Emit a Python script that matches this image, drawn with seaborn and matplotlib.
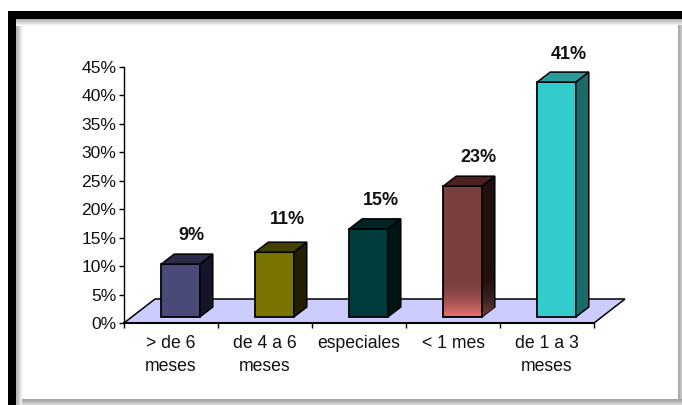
import numpy as np
import pandas as pd
import matplotlib
matplotlib.use('Agg')
import matplotlib.pyplot as plt
from matplotlib.patches import Polygon, Rectangle
from matplotlib.colors import LinearSegmentedColormap
import seaborn as sns

# values
categories = ['> de 6\nmeses', 'de 4 a 6\nmeses', 'especiales', '< 1 mes', 'de 1 a 3\nmeses']
values = [9.3, 11.4, 15.5, 23.0, 41.3]
value_labels = ['9%', '11%', '15%', '23%', '41%']
y_ticks = [0, 5, 10, 15, 20, 25, 30, 35, 40, 45]

front_colors = ['#4a4a78', '#7a7500', '#003c3c', '#7a4040', '#33cccc']
side_colors = ['#15152a', '#211f00', '#001414', '#1f0f0d', '#1a6a6a']
top_colors = ['#2b2b4a', '#444100', '#002424', '#4a2020', '#2a9a9a']

sns.set_style('white')
plt.rcParams['font.family'] = ['Liberation Sans', 'DejaVu Sans']

W, H = 682, 405
fig = plt.figure(figsize=(W / 100, H / 100), dpi=100, facecolor='white')


# rectangle on the figure, given in pixels from the top left
def frame_rect(x0, y0, x1, y1, color):
    fig.add_artist(Rectangle((x0 / W, 1 - y1 / H), (x1 - x0) / W, (y1 - y0) / H,
                             transform=fig.transFigure, color=color, lw=0))


# gray shadow of the frame, then the black border
shades = ['#b4b4b4', '#bcbcbc', '#c8c8c8', '#d4d4d4', '#e2e2e2', '#f0f0f0', '#f8f8f8']
for i, shade in enumerate(shades):
    frame_rect(16, 19 + i, 682, 20 + i, shade)
    frame_rect(16 + i, 19 + i, 17 + i, 405, shade)
right_shades = ['#a8a8a8', '#b0b0b0', '#bcbcbc', '#c8c8c8']
for i, shade in enumerate(right_shades):
    frame_rect(678 + i, 25, 679 + i, 405, shade)
bottom_shades = ['#a4a4a4', '#aaaaaa', '#b4b4b4', '#c0c0c0', '#cccccc', '#d8d8d8']
for i, shade in enumerate(bottom_shades):
    frame_rect(16 + 6, 399 + i, 682, 400 + i, shade)
frame_rect(8, 11, 682, 19, 'black')
frame_rect(8, 11, 16, 405, 'black')

ax = fig.add_axes([124 / W, 1 - 323 / H, 470 / W, 256 / H], facecolor='none')

df = pd.DataFrame({'category': categories, 'value': values})
sns.barplot(data=df, x='category', y='value', hue='category', palette=front_colors,
            dodge=False, legend=False, width=0.41, bottom=1.05, saturation=1,
            edgecolor='black', linewidth=1.3, zorder=3, ax=ax)

ax.set_xlim(-0.5, 4.5)
ax.set_ylim(0, 45)

# 3d depth of the bars and the floor
px_x = 5 / 470
px_y = 45 / 256
dx = 13 * px_x
dy = 10 * px_y

floor_dx = 31 * px_x
floor_dy = 24 * px_y
ax.add_patch(Polygon([(-0.5, 0), (4.5, 0), (4.5 + floor_dx, floor_dy), (-0.5 + floor_dx, floor_dy)],
                     closed=True, facecolor='#ccccff', edgecolor='black', lw=1.1,
                     zorder=1, clip_on=False))

# the labels do not sit at the same distance from every bar
label_dx = [10.5, 12.5, 12.5, 15.5, 12.5]
label_dy = [29, 33, 28, 29, 28]

n_bars = len(values)
side_faces = []
for i, bar in enumerate(ax.patches[:n_bars]):
    bar.set_x(bar.get_x() + 9.5 * px_x)
    x0 = bar.get_x()
    x1 = x0 + bar.get_width()
    y0 = bar.get_y()
    y1 = y0 + bar.get_height()
    side = Polygon([(x1, y0), (x1 + dx, y0 + dy), (x1 + dx, y1 + dy), (x1, y1)],
                   closed=True, facecolor=side_colors[i], edgecolor='black', lw=1.1,
                   zorder=3, clip_on=False)
    ax.add_patch(side)
    side_faces.append(side)
    ax.add_patch(Polygon([(x0, y1), (x0 + dx, y1 + dy), (x1 + dx, y1 + dy), (x1, y1)],
                         closed=True, facecolor=top_colors[i], edgecolor='black', lw=1.1,
                         zorder=3, clip_on=False))
    ax.annotate(value_labels[i], ((x0 + x1) / 2, y1), xytext=(label_dx[i], label_dy[i]),
                textcoords='offset pixels', ha='center', va='center', fontsize=13,
                fontweight='bold', color='#111111', annotation_clip=False, zorder=5)

# the lighter fade at the foot of the maroon bar
fade_bar = ax.patches[3]
fade_x0 = fade_bar.get_x()
fade_x1 = fade_x0 + fade_bar.get_width()
fade = LinearSegmentedColormap.from_list('fade', ['#7a4040', '#e87070'])
ax.imshow(np.linspace(0, 1, 40).reshape(-1, 1) ** 2, cmap=fade, aspect='auto', origin='upper', zorder=3.1,
          extent=(fade_x0 + 0.013, fade_x1 - 0.013, 1.3, 8))

# same fade on its side face, kept inside the face
side_fade = LinearSegmentedColormap.from_list('side_fade', ['#1f0f0d', '#6a3c3a'])
img = ax.imshow(np.linspace(0, 1, 40).reshape(-1, 1) ** 2, cmap=side_fade, aspect='auto', origin='upper',
                zorder=3.1, extent=(fade_x1 + 0.013, fade_x1 + dx - 0.013, 1.3, 8 + dy), clip_on=True)
img.set_clip_path(side_faces[3])
ax.set_xlim(-0.5, 4.5)
ax.set_ylim(0, 45)

# axes and ticks
ax.set_xlabel('')
ax.set_ylabel('')
ax.set_yticks(y_ticks)
ax.set_yticklabels([f'{t}%' for t in y_ticks])
ax.set_xticks(range(len(categories)))
ax.set_xticklabels(categories, linespacing=1.45)
ax.set_xticks(np.arange(-0.5, 5), minor=True)
ax.tick_params(axis='x', which='major', length=0, pad=9, labelsize=12.7, colors='#111111')
ax.tick_params(axis='x', which='minor', length=3.5, width=1, color='black', bottom=True)
ax.tick_params(axis='y', length=3.5, width=1, color='black', left=True, pad=2, labelsize=12.6, labelcolor='#111111')
sns.despine(ax=ax, top=True, right=True)
ax.spines['left'].set_color('black')
ax.spines['left'].set_linewidth(1)
ax.spines['bottom'].set_color('black')
ax.spines['bottom'].set_linewidth(1.5)
ax.spines['bottom'].set_zorder(6)

fig.savefig('out.png', dpi=100)
